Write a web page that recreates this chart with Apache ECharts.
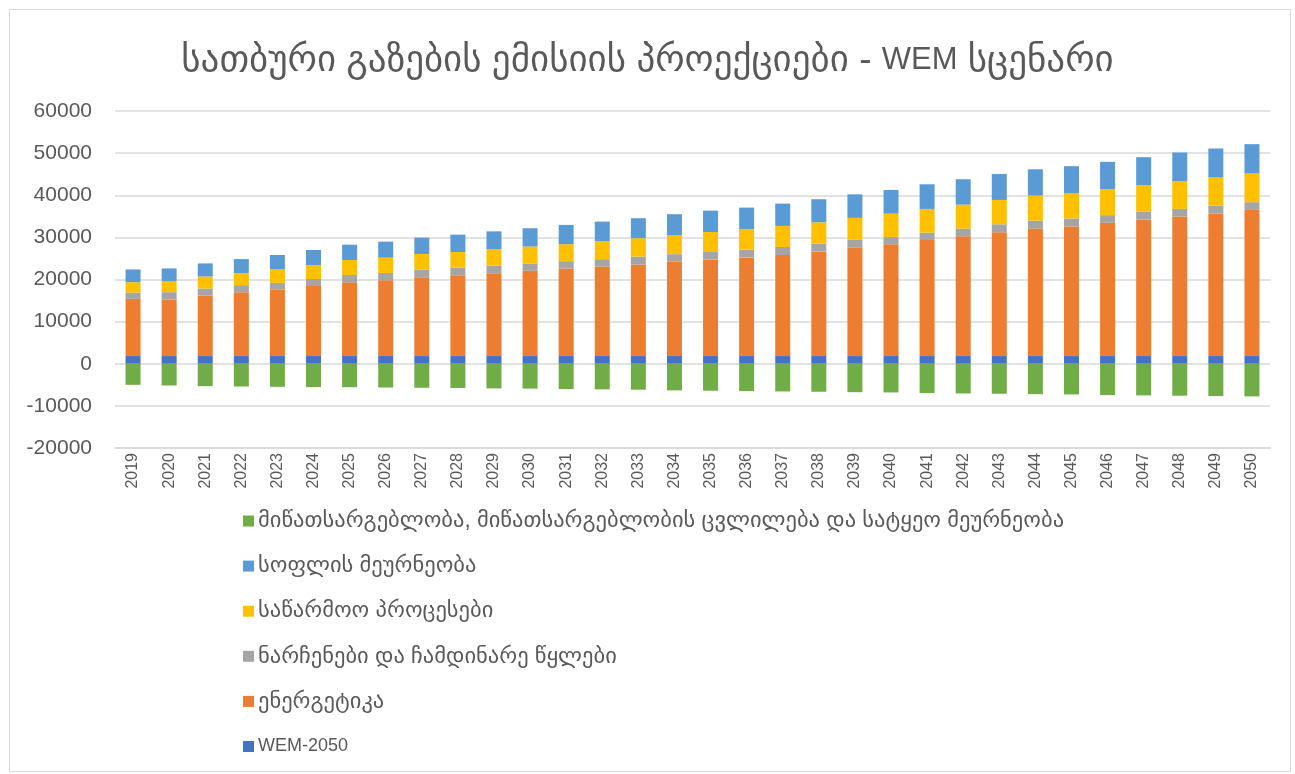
<!DOCTYPE html>
<html>
<head>
<meta charset="utf-8">
<script src="https://cdn.jsdelivr.net/npm/echarts@6/dist/echarts.min.js"></script>
<style>
html,body{margin:0;padding:0;background:#fff;}
#chart{width:1295px;height:774px;}
</style>
</head>
<body>
<div id="chart"></div>
<script>
const years = ['2019','2020','2021','2022','2023','2024','2025','2026','2027','2028','2029','2030','2031','2032','2033','2034','2035','2036','2037','2038','2039','2040','2041','2042','2043','2044','2045','2046','2047','2048','2049','2050'];

const seriesNames = {
  wem: 'WEM-2050',
  energy: 'ენერგეტიკა',
  waste: 'ნარჩენები და ჩამდინარე წყლები',
  industry: 'საწარმოო პროცესები',
  agriculture: 'სოფლის მეურნეობა',
  lulucf: 'მიწათსარგებლობა, მიწათსარგებლობის ცვლილება და სატყეო მეურნეობა'
};

const wem = [1830,1830,1830,1830,1830,1830,1830,1830,1830,1830,1830,1830,1830,1830,1830,1830,1830,1830,1830,1830,1830,1830,1830,1830,1830,1830,1830,1830,1830,1830,1830,1830];
const energy = [13570,13420,14370,15160,15720,16620,17490,17970,18680,19160,19650,20230,20780,21250,21730,22380,22880,23360,23990,24780,25700,26520,27550,28420,29370,30250,30760,31630,32420,33130,33840,34710];
const waste = [1510,1740,1670,1670,1660,1670,1750,1740,1820,1820,1830,1660,1740,1740,1890,1800,1820,1900,1900,1900,1880,1750,1750,1830,1910,1900,1900,1820,1820,1820,1830,1820];
const industry = [2460,2620,2850,2860,3180,3320,3560,3650,3730,3720,3850,4110,4030,4270,4350,4510,4750,4830,4990,5070,5220,5540,5620,5700,5770,5940,6010,6170,6330,6570,6720,6810];
const agriculture = [3020,3020,3100,3330,3420,3570,3640,3800,3880,4120,4270,4340,4580,4660,4750,4980,5070,5150,5310,5470,5590,5620,5860,6020,6180,6250,6410,6480,6640,6800,6880,6960];
const lulucf = [-5000,-5160,-5320,-5400,-5480,-5520,-5560,-5640,-5700,-5760,-5850,-5900,-6000,-6080,-6160,-6320,-6400,-6500,-6580,-6650,-6750,-6810,-6970,-7050,-7130,-7210,-7280,-7440,-7510,-7590,-7670,-7750];

const yTicks = {min: -20000, max: 60000, interval: 10000};

const colors = {
  wem: '#4472C4', energy: '#ED7D31', waste: '#A5A5A5',
  industry: '#FFC000', agriculture: '#5B9BD5', lulucf: '#70AD47'
};

const FONT = "'Liberation Sans', 'DejaVu Sans', sans-serif";
const TXT = '#595959';

function bar(key, data) {
  return {
    name: seriesNames[key], type: 'bar', stack: 'total', data: data,
    barWidth: 15,
    itemStyle: {color: colors[key]},
    emphasis: {disabled: true}
  };
}

const geoLegend = {fontSize: 22.5, fontFamily: FONT, color: TXT};
const chart = echarts.init(document.getElementById('chart'), null, {renderer: 'canvas'});
chart.setOption({
  animation: false,
  backgroundColor: '#fff',
  title: {
    text: '{g|სათბური გაზების ემისიის პროექციები - }{l|WEM}{g| სცენარი}',
    left: 'center', top: 37,
    textStyle: {
      fontFamily: FONT, fontSize: 30, fontWeight: 'normal', color: TXT,
      rich: {
        g: {fontFamily: FONT, fontSize: 37, color: TXT},
        l: {fontFamily: FONT, fontSize: 31, color: TXT}
      }
    }
  },
  graphic: [{
    type: 'rect', left: 7, top: 7,
    shape: {width: 1281, height: 762},
    style: {fill: 'none', stroke: '#D9D9D9', lineWidth: 1}, silent: true
  }],
  legend: {
    orient: 'vertical', left: 243, top: 509, height: 262, padding: 0,
    itemWidth: 11, itemHeight: 11, itemGap: 21.1,
    icon: 'rect',
    data: [
      {name: seriesNames.lulucf, textStyle: geoLegend},
      {name: seriesNames.agriculture, textStyle: geoLegend},
      {name: seriesNames.industry, textStyle: geoLegend},
      {name: seriesNames.waste, textStyle: geoLegend},
      {name: seriesNames.energy, textStyle: geoLegend},
      {name: seriesNames.wem, textStyle: {fontSize: 18, fontFamily: FONT, color: TXT}}
    ],
    textStyle: {fontFamily: FONT, fontSize: 18, color: TXT, padding: [0,0,0,-1], lineHeight: 24}
  },
  grid: {left: 115, right: 25, top: 111, height: 337, containLabel: false},
  xAxis: {
    type: 'category', data: years,
    axisLine: {show: true, onZero: false, lineStyle: {color: '#D9D9D9', width: 1.5}},
    axisTick: {show: false},
    axisLabel: {rotate: 90, fontFamily: FONT, fontSize: 16, color: TXT, margin: 5}
  },
  yAxis: {
    type: 'value', min: yTicks.min, max: yTicks.max, interval: yTicks.interval,
    axisLine: {show: false}, axisTick: {show: false},
    splitLine: {lineStyle: {color: '#D9D9D9', width: 1.5}},
    axisLabel: {fontFamily: FONT, fontSize: 21, color: TXT, margin: 23, formatter: v => String(v)}
  },
  series: [
    bar('wem', wem),
    bar('energy', energy),
    bar('waste', waste),
    bar('industry', industry),
    bar('agriculture', agriculture),
    bar('lulucf', lulucf)
  ]
});
</script>
</body>
</html>
